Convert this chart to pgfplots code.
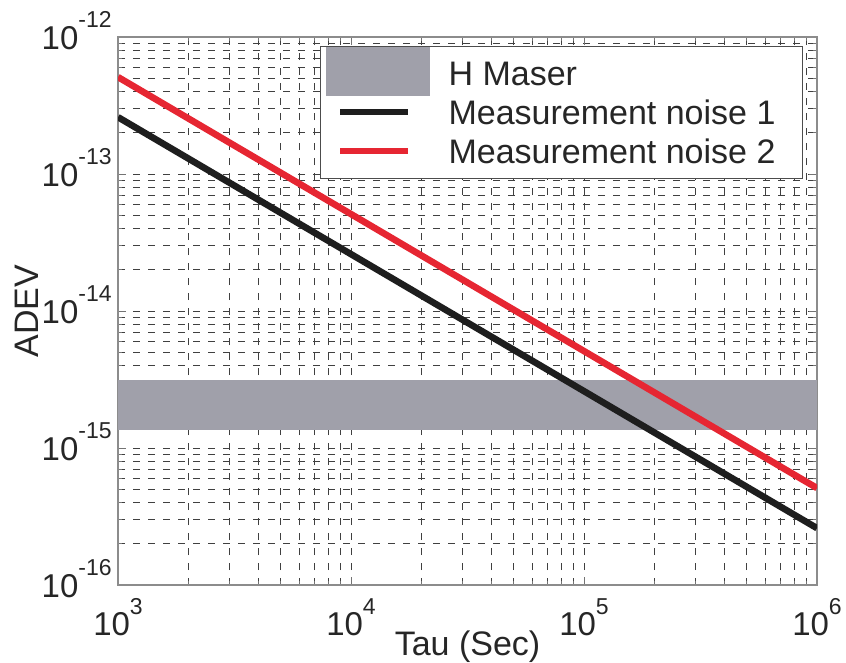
\documentclass[border=0pt]{standalone}
\usepackage{fontspec}
\setmainfont{Liberation Sans}
\usepackage{pgfplots}
\pgfplotsset{compat=1.18}
\definecolor{maser}{RGB}{160,160,170}
\definecolor{mred}{RGB}{230,38,50}
\definecolor{mblack}{RGB}{30,30,30}
\newcommand{\lblfont}{\fontsize{17}{20}\selectfont}
\newcommand{\tickfont}{\fontsize{16.5}{19}\selectfont}
\newcommand{\ex}[2]{10\raisebox{#2}{\fontsize{11.5}{11.5}\selectfont #1}}
\begin{document}
\begin{tikzpicture}
\path[use as bounding box] (0,0) rectangle (423pt,331.5pt);
\begin{axis}[
  at={(59pt,39pt)}, anchor=south west,
  scale only axis, width=349.5pt, height=274pt,
  xmode=log, ymode=log,
  xmin=1e3, xmax=1e6, ymin=1e-16, ymax=1e-12,
  xtick={1e3,1e4,1e5,1e6},
  ytick={1e-16,1e-15,1e-14,1e-13,1e-12},
  minor xtick={2e3,3e3,4e3,5e3,6e3,7e3,8e3,9e3,2e4,3e4,4e4,5e4,6e4,7e4,8e4,9e4,2e5,3e5,4e5,5e5,6e5,7e5,8e5,9e5},
  minor ytick={2e-16,3e-16,4e-16,5e-16,6e-16,7e-16,8e-16,9e-16,2e-15,3e-15,4e-15,5e-15,6e-15,7e-15,8e-15,9e-15,2e-14,3e-14,4e-14,5e-14,6e-14,7e-14,8e-14,9e-14,2e-13,3e-13,4e-13,5e-13,6e-13,7e-13,8e-13,9e-13},
  xticklabels={\ex{3}{10.5pt},\ex{4}{10.5pt},\ex{5}{10.5pt},\ex{6}{10.5pt}},
  yticklabels={\ex{-16}{11pt},\ex{-15}{11pt},\ex{-14}{11pt},\ex{-13}{11pt},\ex{-12}{11pt}},
  grid=both,
  major grid style={black!75, line width=0.45pt, dash pattern=on 3.3pt off 4.2pt},
  minor grid style={black!75, line width=0.45pt, dash pattern=on 3.3pt off 4.2pt},
  axis line style={black!45, line width=0.6pt},
  tick align=inside,
  major tick length=4pt, minor tick length=2pt,
  tick style={black!55, line width=0.5pt},
  every tick label/.append style={font=\tickfont, text=black!85},
  xticklabel style={anchor=base, inner sep=0pt, yshift=-25pt},
  yticklabel style={anchor=base east, inner sep=0pt, xshift=-3pt, yshift=-6pt},
  xlabel={Tau (Sec)}, ylabel={ADEV},
  label style={font=\lblfont, text=black!85},
  xlabel style={at={(axis description cs:0.5,0)}, anchor=base, yshift=-35pt, inner sep=0pt},
  ylabel style={at={(axis description cs:-0.1309,0.5)}, anchor=center, inner sep=0pt},
  legend style={at={(0.98,0.9836)}, anchor=north east, draw=black!70, line width=0.5pt,
    fill=white, inner xsep=8.5pt, inner ysep=3.65pt, column sep=18.5pt, row sep=0pt,
    nodes={inner sep=0pt, text depth=0pt, font=\lblfont, text=black!85}},
  legend cell align=left,
]
\addplot[fill=maser, draw=none,
  legend image code/.code={\path[draw=none, fill=none] (0pt,-9.75pt) rectangle (34pt,9.75pt);
    \fill[maser, overlay] (-7.3pt,-11.1pt) rectangle (45pt,13.1pt);}]
  coordinates {(1e3,1.35e-15) (1e6,1.35e-15) (1e6,3.13e-15) (1e3,3.13e-15)};
\addlegendentry{H Maser}
\addplot[mblack, line width=3.3pt,
  legend image code/.code={\path[draw=none, fill=none] (0pt,-9.75pt) rectangle (34pt,9.75pt);
    \draw[line width=3.1pt] (0pt,0pt) -- (34pt,0pt);}]
  coordinates {(1e3,2.6e-13) (1e4,2.6e-14) (1e5,2.6e-15) (1e6,2.6e-16)};
\addlegendentry{Measurement noise 1\hspace*{5pt}}
\addplot[mred, line width=3.3pt,
  legend image code/.code={\path[draw=none, fill=none] (0pt,-9.75pt) rectangle (34pt,9.75pt);
    \draw[line width=3.1pt] (0pt,0pt) -- (34pt,0pt);}]
  coordinates {(1e3,5.1e-13) (1e4,5.1e-14) (1e5,5.1e-15) (1e6,5.1e-16)};
\addlegendentry{Measurement noise 2\hspace*{5pt}}
\end{axis}
\end{tikzpicture}
\end{document}
